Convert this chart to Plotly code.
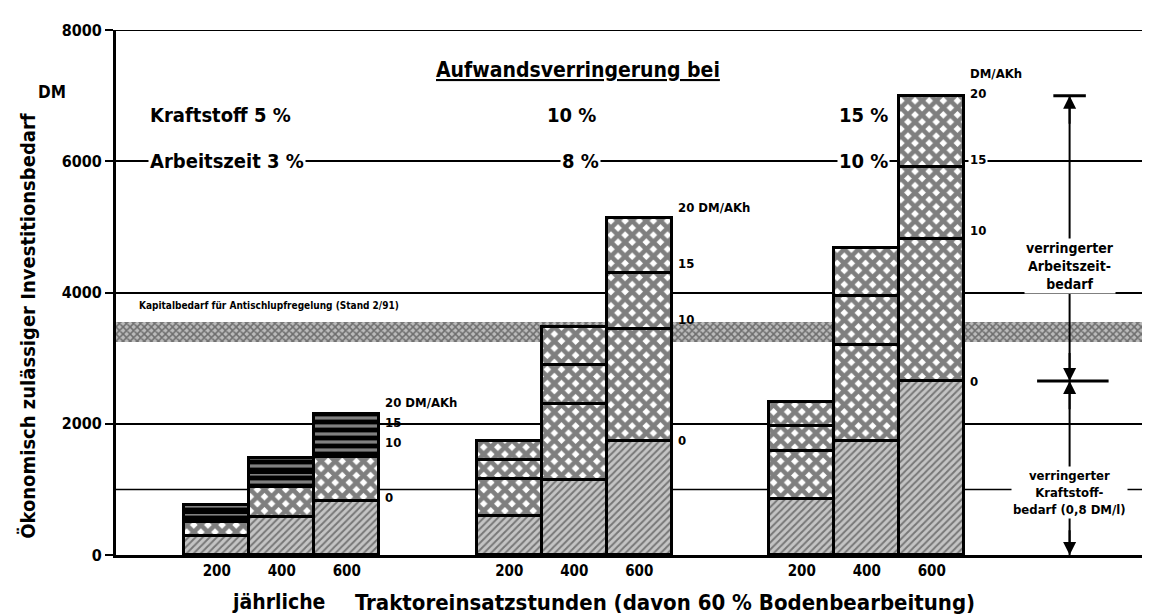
import plotly.graph_objects as go

# ---------------- data ----------------
hours = [200, 400, 600]
groups = ["Kraftstoff 5 % / Arbeitszeit 3 %",
          "Kraftstoff 10 % / Arbeitszeit 8 %",
          "Kraftstoff 15 % / Arbeitszeit 10 %"]
fuel_pct = ["5 %", "10 %", "15 %"]
labor_pct = ["3 %", "8 %", "10 %"]

# stacked tops (DM) per group, per hours: fuel saving, then labour at 10/15/20 DM/AKh
fuel_top = [[290, 580, 830], [590, 1140, 1740], [860, 1740, 2650]]
labor10_top = [[510, 1030, 1490], [1160, 2300, 3440], [1590, 3200, 4820]]
labor15_top = [[635, 1250, 1790], [1450, 2890, 4290], [1960, 3940, 5910]]
labor20_top = [[760, 1480, 2150], [1730, 3470, 5140], [2330, 4680, 7000]]

kapital_low, kapital_high = 3250, 3550
yticks = [0, 2000, 4000, 6000, 8000]
ytick_text = ["0", "2000", "4000", "6000", "8000"]

# ---------------- layout helpers ----------------
FONT = "DejaVu Sans Condensed, Liberation Sans Narrow, DejaVu Sans, sans-serif"
group_offset = [0.0, 4.5, 9.0]
xpos = [[g + i for i in range(3)] for g in group_offset]
flat = lambda a: [v for row in a for v in row]
X = flat(xpos)
XMIN, XMAX = -1.55, 14.48

fig = go.Figure()

# Kapitalbedarf band (as a wide bar so it sits behind the columns)
fig.add_trace(go.Bar(
    x=[(XMIN + XMAX) / 2], y=[kapital_high - kapital_low], base=[kapital_low], width=[XMAX - XMIN],
    marker=dict(color="white", line=dict(width=0),
                pattern=dict(shape="x", size=5, solidity=0.55, fgcolor="#222", bgcolor="#bbb")),
    hoverinfo="skip", showlegend=False))

zeros = [[0] * 3 for _ in range(3)]
levels = [(zeros, fuel_top), (fuel_top, labor10_top), (labor10_top, labor15_top), (labor15_top, labor20_top)]
for k, (lo, hi) in enumerate(levels):
    base = flat(lo)
    top = flat(hi)
    if k == 0:
        pat = dict(shape="/", size=5, solidity=0.4, fgcolor="#2a2a2a", bgcolor="#c4c4c4")
    elif k == 1:
        pat = dict(shape="x", size=10, solidity=0.7, fgcolor="black", bgcolor="white")
    else:
        shapes_ = ["-"] * 3 + ["x"] * 6
        fg = ["white"] * 3 + ["black"] * 6
        bg = ["black"] * 3 + ["white"] * 6
        pat = dict(shape=shapes_, size=[8] * 3 + [10] * 6, solidity=[0.4] * 3 + [0.7] * 6,
                   fgcolor=fg, bgcolor=bg)
    fig.add_trace(go.Bar(
        x=X, y=[t - b for t, b in zip(top, base)], base=base, width=1.0,
        marker=dict(color="white", line=dict(color="black", width=3), pattern=pat),
        hoverinfo="skip", showlegend=False))

annotations = []
def txt(x, y, s, size=15, xanchor="center", yanchor="middle", xref="x", yref="y", bg=None, **kw):
    d = dict(x=x, y=y, text=s, xref=xref, yref=yref, showarrow=False,
             font=dict(family=FONT, size=size, color="black"), xanchor=xanchor, yanchor=yanchor)
    if bg:
        d["bgcolor"] = bg
    d.update(kw)
    annotations.append(d)

# header texts
txt(5.55, 7390, "<b><u>Aufwandsverringerung bei</u></b>", size=21)
txt(-1.06, 6710, "<b>Kraftstoff " + fuel_pct[0] + "</b>", size=20, xanchor="left")
txt(-1.06, 6000, "<b>Arbeitszeit " + labor_pct[0] + "</b>", size=20, xanchor="left", bg="white")
txt(5.45, 6710, "<b>" + fuel_pct[1] + "</b>", size=20)
txt(5.6, 6000, "<b>" + labor_pct[1] + "</b>", size=20, bg="white")
txt(9.95, 6710, "<b>" + fuel_pct[2] + "</b>", size=20)
txt(9.95, 6000, "<b>" + labor_pct[2] + "</b>", size=20, bg="white")
txt(-0.046, 7060, "<b>DM</b>", size=17, xref="paper", xanchor="right")

txt(-1.22, 3800, "<b>Kapitalbedarf für Antischlupfregelung (Stand 2/91)</b>", size=10, xanchor="left")

# labels next to the 600 h bars
xr = [xpos[g][2] + 0.5 for g in range(3)]
txt(xr[0], 2317, "<b>20 DM/AKh</b>", size=13, xanchor="left", xshift=4)
txt(xr[0], 2012, "<b>15</b>", size=13, xanchor="left", xshift=4)
txt(xr[0], 1720, "<b>10</b>", size=13, xanchor="left", xshift=4)
txt(xr[0], 870, "<b>0</b>", size=13, xanchor="left", xshift=4)

txt(xr[1], labor20_top[1][2] + 150, "<b>20 DM/AKh</b>", size=13, xanchor="left", xshift=4)
txt(xr[1], labor15_top[1][2] + 150, "<b>15</b>", size=13, xanchor="left", xshift=4)
txt(xr[1], labor10_top[1][2] + 150, "<b>10</b>", size=13, xanchor="left", xshift=4)
txt(xr[1], fuel_top[1][2], "<b>0</b>", size=13, xanchor="left", xshift=4)

txt(xr[2], labor20_top[2][2] + 340, "<b>DM/AKh</b>", size=13, xanchor="left", xshift=4)
txt(xr[2], labor20_top[2][2] + 40, "<b>20</b>", size=13, xanchor="left", xshift=4)
txt(xr[2], labor15_top[2][2] + 120, "<b>15</b>", size=13, xanchor="left", xshift=4, bg="white")
txt(xr[2], labor10_top[2][2] + 120, "<b>10</b>", size=13, xanchor="left", xshift=4)
txt(xr[2], fuel_top[2][2], "<b>0</b>", size=13, xanchor="left", xshift=4)

# right-hand dimension annotation
AX = 13.12
top_l = labor20_top[2][2]
mid_l = fuel_top[2][2]
shapes = [
    dict(type="line", xref="x", yref="y", x0=AX, x1=AX, y0=0, y1=top_l, line=dict(color="black", width=2)),
    dict(type="line", xref="x", yref="y", x0=AX - 0.25, x1=AX + 0.25, y0=top_l, y1=top_l, line=dict(color="black", width=3)),
    dict(type="line", xref="x", yref="y", x0=AX - 0.5, x1=AX + 0.6, y0=mid_l, y1=mid_l, line=dict(color="black", width=3)),
    dict(type="line", xref="paper", yref="y", x0=0, x1=1, y0=1000, y1=1000, line=dict(color="black", width=1.5), layer="below"),
    dict(type="line", xref="paper", yref="y", x0=0, x1=1, y0=8000, y1=8000, line=dict(color="black", width=2), layer="below"),
]
for (hy, ty) in [(top_l, top_l - 450), (mid_l, mid_l + 450), (mid_l, mid_l - 450), (0, 400)]:
    annotations.append(dict(x=AX, y=hy, ax=AX, ay=ty, xref="x", yref="y", axref="x", ayref="y",
                            showarrow=True, arrowhead=2, arrowsize=1.3, arrowwidth=2, arrowcolor="black", text=""))
txt(AX, 4405, "<b>verringerter<br>Arbeitszeit-<br>bedarf</b>", size=14, bg="white")
txt(AX, 945, "<b>verringerter<br>Kraftstoff-<br>bedarf (0,8 DM/l)</b>", size=13, bg="white")

# axis titles
txt(-0.084, 3500, "<b>Ökonomisch zulässiger Investitionsbedarf</b>", size=20, xref="paper", textangle=-90)
txt(xpos[0][1] - 0.05, -0.09, "<b>jährliche</b>", size=21, yref="paper")
txt(xpos[0][2] + 0.1, -0.09, "<b>Traktoreinsatzstunden (davon 60 % Bodenbearbeitung)</b>", size=22,
    yref="paper", xanchor="left")

fig.update_layout(
    width=1150, height=614,
    margin=dict(l=108, r=0, t=22, b=67),
    paper_bgcolor="white", plot_bgcolor="white",
    barmode="overlay", bargap=0,
    annotations=annotations, shapes=shapes,
    font=dict(family=FONT, color="black"),
    xaxis=dict(range=[XMIN, XMAX], tickmode="array", tickvals=X,
               ticktext=["<b>%d</b>" % h for h in hours] * 3,
               tickfont=dict(size=15, family=FONT), ticks="", showgrid=False, zeroline=False,
               showline=True, linecolor="black", linewidth=3),
    yaxis=dict(range=[0, 8000], tickmode="array", tickvals=yticks,
               ticktext=["<b>%s</b>" % t for t in ytick_text],
               tickfont=dict(size=16, family=FONT), ticks="outside", ticklen=8, tickwidth=2,
               tickcolor="black", showgrid=True, gridcolor="black", gridwidth=1.5,
               zeroline=False, showline=True, linecolor="black", linewidth=3),
)

fig.write_html("out.html")
